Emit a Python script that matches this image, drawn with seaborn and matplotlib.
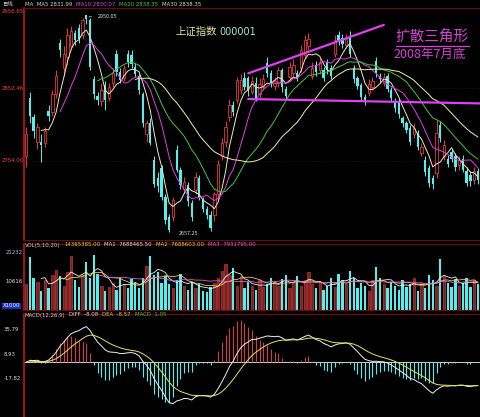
import numpy as np
import pandas as pd
import matplotlib
matplotlib.use('Agg')
import matplotlib.pyplot as plt
import matplotlib.transforms as mtrans
import seaborn as sns

# candle data
opens = [2760, 2840, 2813, 2780, 2780, 2778, 2822, 2820, 2845, 2915,
         2880, 2895, 2910, 2928, 2935, 2925, 2952, 2945, 2865, 2842,
         2835, 2857, 2840, 2860, 2900, 2875, 2866, 2900, 2898, 2882,
         2870, 2845, 2790, 2806, 2755, 2730, 2744, 2704, 2678, 2678,
         2769, 2742, 2715, 2721, 2697, 2714, 2731, 2701, 2688, 2680,
         2680, 2708, 2760, 2780, 2813, 2830, 2837, 2850, 2866, 2866,
         2848, 2860, 2845, 2855, 2887, 2874, 2856, 2860, 2877, 2852,
         2868, 2874, 2874, 2880, 2898, 2910, 2870, 2885, 2877, 2877,
         2888, 2880, 2900, 2925, 2921, 2912, 2922, 2880, 2866, 2857,
         2841, 2846, 2855, 2890, 2870, 2860, 2870, 2850, 2836, 2836,
         2812, 2805, 2798, 2790, 2792, 2765, 2755, 2744, 2731, 2737,
         2803, 2760, 2757, 2766, 2760, 2748, 2757, 2740, 2735, 2728, 2740]
closes = [2790, 2815, 2795, 2800, 2776, 2795, 2815, 2845, 2870, 2905,
          2900, 2925, 2930, 2918, 2920, 2945, 2947, 2882, 2845, 2837,
          2850, 2837, 2855, 2873, 2875, 2864, 2880, 2888, 2886, 2872,
          2850, 2805, 2805, 2778, 2722, 2720, 2705, 2673, 2660, 2700,
          2742, 2721, 2725, 2699, 2678, 2732, 2705, 2688, 2680, 2662,
          2708, 2750, 2778, 2800, 2830, 2820, 2864, 2864, 2855, 2850,
          2862, 2840, 2858, 2865, 2873, 2860, 2862, 2877, 2854, 2842,
          2882, 2885, 2867, 2905, 2918, 2920, 2880, 2875, 2888, 2867,
          2878, 2870, 2918, 2918, 2913, 2920, 2900, 2865, 2856, 2841,
          2837, 2858, 2862, 2873, 2865, 2868, 2852, 2840, 2826, 2817,
          2805, 2796, 2780, 2798, 2772, 2772, 2738, 2724, 2722, 2792,
          2785, 2775, 2750, 2757, 2745, 2755, 2742, 2724, 2726, 2740, 2728]
highs = [2800, 2848, 2818, 2805, 2790, 2800, 2830, 2850, 2878, 2920,
         2910, 2935, 2938, 2932, 2940, 2948, 2950.05, 2948, 2870, 2848,
         2860, 2862, 2860, 2880, 2905, 2880, 2885, 2905, 2905, 2887,
         2872, 2848, 2810, 2812, 2760, 2738, 2748, 2708, 2682, 2705,
         2775, 2746, 2732, 2725, 2700, 2738, 2735, 2705, 2692, 2685,
         2712, 2755, 2785, 2808, 2838, 2835, 2868, 2872, 2875, 2870,
         2870, 2868, 2866, 2872, 2895, 2878, 2868, 2882, 2880, 2856,
         2888, 2892, 2878, 2912, 2925, 2928, 2888, 2890, 2894, 2882,
         2892, 2885, 2925, 2930, 2926, 2926, 2930, 2885, 2870, 2860,
         2845, 2865, 2868, 2895, 2874, 2874, 2874, 2854, 2840, 2840,
         2815, 2808, 2802, 2805, 2796, 2778, 2760, 2748, 2735, 2810,
         2808, 2782, 2762, 2770, 2765, 2760, 2762, 2745, 2740, 2745, 2744]
lows = [2745, 2805, 2785, 2770, 2752, 2772, 2808, 2815, 2840, 2895,
        2870, 2885, 2905, 2912, 2915, 2920, 2940, 2878, 2838, 2830,
        2828, 2823, 2835, 2855, 2870, 2860, 2862, 2882, 2880, 2868,
        2845, 2800, 2780, 2775, 2718, 2712, 2700, 2668, 2657.25, 2672,
        2738, 2715, 2710, 2692, 2672, 2708, 2700, 2684, 2674, 2658,
        2672, 2700, 2755, 2772, 2808, 2815, 2832, 2845, 2850, 2842,
        2845, 2835, 2840, 2850, 2868, 2855, 2850, 2855, 2848, 2838,
        2862, 2870, 2862, 2875, 2893, 2905, 2865, 2870, 2872, 2862,
        2872, 2865, 2895, 2912, 2908, 2908, 2895, 2860, 2852, 2836,
        2830, 2842, 2850, 2868, 2860, 2856, 2848, 2835, 2820, 2812,
        2800, 2792, 2775, 2785, 2768, 2760, 2733, 2718, 2716, 2730,
        2780, 2755, 2745, 2752, 2740, 2742, 2738, 2720, 2720, 2722, 2722]
volumes = [9500, 19500, 12000, 10500, 7000, 11000, 8000, 13000, 15000, 12500,
           9000, 14000, 20000, 11000, 8500, 13000, 18000, 12000, 20500, 13500,
           9000, 7000, 8500, 10000, 7500, 12000, 9500, 8000, 11500, 10000,
           8000, 12000, 16500, 20000, 13000, 14000, 10000, 12500, 9500, 8000,
           11000, 13500, 9000, 7500, 10500, 8000, 9500, 7000, 6500, 8500,
           10000, 12000, 14500, 17000, 13000, 15500, 9000, 12500, 8000, 10500,
           9000, 7500, 11000, 8500, 9500, 12000, 10000, 9000, 11500, 13000,
           8000, 10000, 12500, 9000, 11000, 14000, 9500, 8000, 10500, 7500,
           9000, 12000, 8500, 13500, 11000, 9500, 14500, 12000, 8000, 10000,
           9000, 7000, 11000, 16000, 12000, 9500, 8000, 10500, 9000, 7500,
           11000, 8500, 9500, 12000, 7000, 10000, 8000, 13000, 11000, 9000,
           19000, 12500, 10000, 8500, 11500, 9000, 10000, 12000, 8500, 11000, 9500]

# hand-drawn pattern lines (candle index, price)
upper_x = [59, 95]
upper_y = [2873, 2939]
lower_x = [59, 121]
lower_y = [2838, 2832]

price_labels = [2956.65, 2852.46, 2754.00]
vol_labels = [21232, 10616]
macd_labels = [35.79, 8.93, -17.82]

RED = '#e83838'
CYAN = '#54f0f0'
BG = 'black'
FS = 3.9

sns.set_style('dark', rc={'axes.facecolor': BG, 'figure.facecolor': BG})
plt.rcParams['font.family'] = ['Noto Sans CJK SC', 'DejaVu Sans']

df = pd.DataFrame({'o': opens, 'c': closes, 'h': highs, 'l': lows, 'v': volumes})
df['i'] = np.arange(len(df))
up = df['c'] >= df['o']
for n in (5, 10, 20, 30):
    df[f'ma{n}'] = df['c'].rolling(n).mean()
for n in (5, 10, 20):
    df[f'vma{n}'] = df['v'].rolling(n).mean()
ema12 = df['c'].ewm(span=12, adjust=False).mean()
ema26 = df['c'].ewm(span=26, adjust=False).mean()
df['diff'] = ema12 - ema26
df['dea'] = df['diff'].ewm(span=9, adjust=False).mean()
df['hist'] = 2 * (df['diff'] - df['dea'])

fig = plt.figure(figsize=(4.8, 4.17), dpi=100)
rend = fig.canvas.get_renderer()


def row_text(x, y, parts, gap=0.008):
    # header texts written one after another
    for txt, col in parts:
        t = fig.text(x, y, txt, fontsize=FS, color=col, va='center', family='DejaVu Sans')
        x += t.get_window_extent(renderer=rend).width / fig.bbox.width + gap


L = 24 / 480
W = 1 - L
ax = fig.add_axes([L, (417 - 240) / 417, W, 232 / 417])
axv = fig.add_axes([L, (417 - 310) / 417, W, 66 / 417])
axm = fig.add_axes([L, 0, W, 103 / 417])

xl = (-0.55, len(df) - 0.45)
for a in (ax, axv, axm):
    a.set_xlim(*xl)
    a.set_xticks([])
    a.set_yticks([])
    a.grid(False)
    for s in a.spines.values():
        s.set_color('#6a0c0c')
        s.set_linewidth(0.8)
    a.spines['left'].set_color('#c01818')
    a.spines['left'].set_linewidth(1.2)
    a.spines['right'].set_visible(False)

# main panel
ax.set_ylim(2646, 2962)
for p in price_labels[1:]:
    ax.axhline(p, color='#3a1414', lw=0.6, ls=(0, (1, 2)))
d = df[up]
ax.vlines(d['i'], d['l'], d['h'], color=RED, lw=0.7, zorder=2)
ax.bar(d['i'], d['c'] - d['o'], bottom=d['o'], width=0.62, facecolor=BG,
       edgecolor=RED, lw=0.6, zorder=3)
d = df[~up]
ax.vlines(d['i'], d['l'], d['h'], color=CYAN, lw=0.7, zorder=2)
ax.bar(d['i'], d['o'] - d['c'], bottom=d['c'], width=0.62, color=CYAN, lw=0, zorder=3)

ma_cols = {'ma5': '#f0e6c0', 'ma10': '#e040e0', 'ma20': '#40c840', 'ma30': '#f0f0a0'}
for k, col in ma_cols.items():
    sns.lineplot(data=df, x='i', y=k, ax=ax, color=col, lw=0.7, zorder=4)
ax.set_xlabel('')
ax.set_ylabel('')

ax.plot(upper_x, upper_y, color='#e040f0', lw=1.6, zorder=5)
ax.plot(lower_x, lower_y, color='#e040f0', lw=1.6, zorder=5)

tr = mtrans.blended_transform_factory(fig.transFigure, ax.transData)
for p in price_labels:
    ax.text(0.004, p, f'{p:.2f}', transform=tr, ha='left', va='center',
            fontsize=FS, color='#ff4040', family='DejaVu Sans')

ih = int(df['h'].idxmax())
ax.annotate(f"{df['h'].max():.2f}", xy=(ih, df['h'].max()), xytext=(ih + 3, 2950),
            fontsize=FS, color='#e0e0e0', va='center',
            arrowprops=dict(arrowstyle='-', color='#e0e0e0', lw=0.5))
il = int(df['l'].idxmin())
ax.text(il + 2.5, df['l'].min() - 2, f"{df['l'].min():.2f}", fontsize=FS,
        color='#e0e0e0', va='center')

ax.text(0.333, 0.897, '上证指数', transform=ax.transAxes, fontsize=7.5,
        color='#e8e0a0', va='center', ha='left')
ax.text(0.428, 0.897, '000001', transform=ax.transAxes, fontsize=7,
        color='#a8e8e0', va='center', ha='left', family='DejaVu Sans')
ax.text(0.895, 0.878, '扩散三角形', transform=ax.transAxes, fontsize=10.5,
        color='#d840d8', va='center', ha='center')
ax.plot([0.815, 0.975], [0.838, 0.838], transform=ax.transAxes, color='#d840d8', lw=0.9)
ax.text(0.89, 0.80, '2008年7月底', transform=ax.transAxes, fontsize=9,
        color='#d840d8', va='center', ha='center')

# header of main panel
fig.text(0.004, 1 - 4 / 417, '日线', fontsize=FS, color='#d0d0d0', va='center')
row_text(0.052, 1 - 4 / 417, [('MA  MA5 2831.99', '#d0d0d0'), ('MA10 2830.07', '#e040e0'),
                              ('MA20 2838.35', '#40c840'), ('MA30 2838.35', '#e0e0b0')])

# volume panel
axv.set_ylim(0, 24500)
d = df[up]
axv.bar(d['i'], d['v'], width=0.62, facecolor='#7a2222', edgecolor='#c03838', lw=0.5)
d = df[~up]
axv.bar(d['i'], d['v'], width=0.62, color=CYAN, lw=0)
for k, col in [('vma5', '#f0f0f0'), ('vma10', '#e8d040'), ('vma20', '#e060e0')]:
    sns.lineplot(data=df, x='i', y=k, ax=axv, color=col, lw=0.6)
axv.set_xlabel('')
axv.set_ylabel('')
trv = mtrans.blended_transform_factory(fig.transFigure, axv.transData)
axv.text(0.012, vol_labels[0], str(vol_labels[0]), transform=trv, ha='left', va='center',
         fontsize=FS, color='#a0d0f0', family='DejaVu Sans')
axv.text(0.012, vol_labels[1], str(vol_labels[1]), transform=trv, ha='left', va='center',
         fontsize=FS, color='#e0e0e0', family='DejaVu Sans')
axv.text(0.006, 1500, 'X1000', transform=trv, ha='left', va='center', fontsize=FS,
         color='white', family='DejaVu Sans',
         bbox=dict(boxstyle='square,pad=0.15', fc='#1830c0', ec='none'))
row_text(0.052, 1 - 245 / 417, [('VOL(5,10,20)', '#d0d0d0'), ('14365385.00', '#e8d040'),
                                ('MA1  7688465.50', '#e0e0e0'), ('MA2  7688603.00', '#e8d040'),
                                ('MA3  7931795.00', '#e060e0')])

# MACD panel
axm.set_ylim(-60, 53)
axm.axhline(0, color='#d0d0d0', lw=0.7)
d = df[df['hist'] >= 0]
axm.vlines(d['i'], 0, d['hist'], color='#d04040', lw=0.8)
d = df[df['hist'] < 0]
axm.vlines(d['i'], 0, d['hist'], color=CYAN, lw=0.8)
sns.lineplot(data=df, x='i', y='diff', ax=axm, color='#f0f0f0', lw=0.7)
sns.lineplot(data=df, x='i', y='dea', ax=axm, color='#e8e060', lw=0.7)
axm.set_xlabel('')
axm.set_ylabel('')
trm = mtrans.blended_transform_factory(fig.transFigure, axm.transData)
for m in macd_labels:
    axm.text(0.008, m, f'{m:.2f}', transform=trm, ha='left', va='center',
             fontsize=FS, color='#e0e0e0', family='DejaVu Sans')
row_text(0.052, 1 - 315 / 417, [('MACD(12,26,9)', '#d0d0d0'), ('DIFF  -8.08', '#e0e0e0'),
                                ('DEA  -8.57', '#e8d040'), ('MACD  1.05', '#40c840')])

fig.savefig('out.png', dpi=100, facecolor=BG)
